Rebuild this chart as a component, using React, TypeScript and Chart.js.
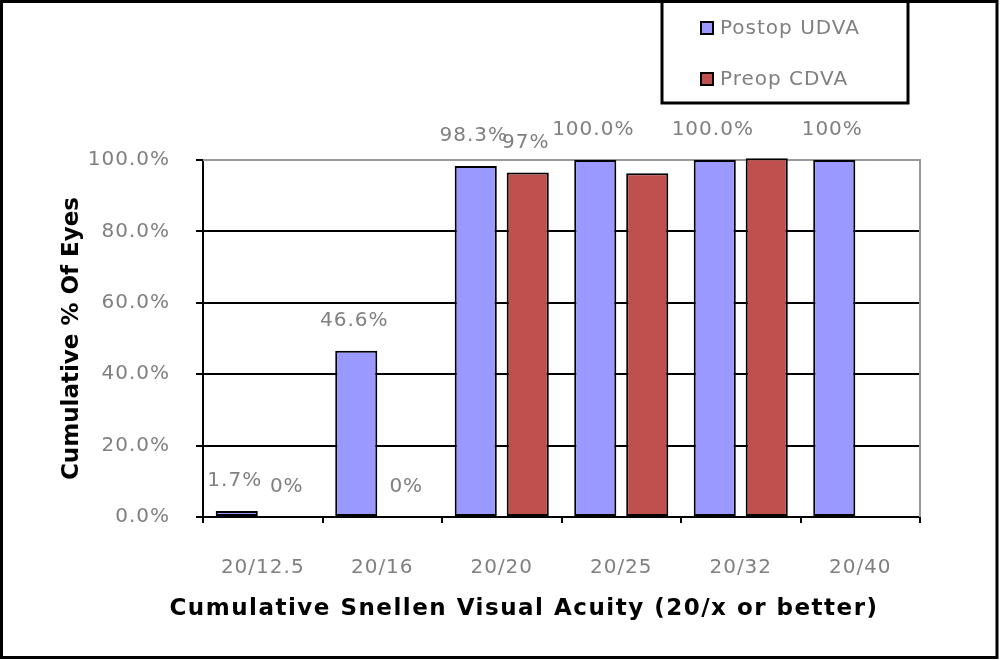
import React, { useEffect, useRef } from "react";
import { Chart, registerables } from "chart.js";

Chart.register(...registerables);

const categories = ["20/12.5", "20/16", "20/20", "20/25", "20/32", "20/40"];
const postopUDVA = [1.7, 46.6, 98.3, 100, 100, 100];
const preopCDVA: (number | null)[] = [0, 0, 96.5, 96.3, 100.5, null];
const postopLabels = ["1.7%", "46.6%", "98.3%", "100.0%", "100.0%", "100%"];
const preopLabels = ["0%", "0%", "97%", "", "", ""];
const yTickLabels = ["0.0%", "20.0%", "40.0%", "60.0%", "80.0%", "100.0%"];
const seriesNames = ["Postop UDVA", "Preop CDVA"];
const seriesColors = ["#9999FF", "#C0504D"];

const xTitle = "Cumulative Snellen Visual Acuity (20/x or better)";
const yTitle = "Cumulative % Of Eyes";

const GRAY = "#808080";
const FONT = "20px 'DejaVu Sans'";
const BOLD = "bold 23px 'DejaVu Sans'";

export default function App() {
  const ref = useRef<HTMLCanvasElement | null>(null);

  useEffect(() => {
    const canvas = ref.current;
    if (!canvas) return;
    document.body.style.margin = "0";

    const decor = {
      id: "decor",
      beforeDraw(chart: any) {
        const ctx = chart.ctx;
        ctx.letterSpacing = "1px";
        ctx.save();
        ctx.fillStyle = "#fff";
        ctx.fillRect(0, 0, chart.width, chart.height);
        ctx.restore();
      },
      beforeDatasetsDraw(chart: any) {
        const ctx = chart.ctx;
        const a = chart.chartArea;
        ctx.save();
        ctx.strokeStyle = "#999";
        ctx.lineWidth = 2;
        ctx.beginPath();
        ctx.moveTo(a.left, a.top);
        ctx.lineTo(a.right, a.top);
        ctx.lineTo(a.right, a.bottom);
        ctx.stroke();
        ctx.restore();
      },
      afterDatasetsDraw(chart: any) {
        const ctx = chart.ctx;
        ctx.save();
        ctx.font = FONT;
        ctx.letterSpacing = "1px";
        ctx.fillStyle = GRAY;
        ctx.textAlign = "center";
        ctx.textBaseline = "middle";
        const labelSets = [postopLabels, preopLabels];
        chart.data.datasets.forEach((ds: any, di: number) => {
          const meta = chart.getDatasetMeta(di);
          meta.data.forEach((el: any, i: number) => {
            const t = labelSets[di][i];
            if (!t || ds.data[i] == null) return;
            ctx.fillText(t, el.x - 2, el.y - 30);
          });
        });
        ctx.restore();
      },
      afterDraw(chart: any) {
        const ctx = chart.ctx;
        const a = chart.chartArea;
        ctx.save();
        // axis titles
        ctx.fillStyle = "#000";
        ctx.font = BOLD;
        ctx.textAlign = "center";
        ctx.textBaseline = "middle";
        ctx.letterSpacing = "1.5px";
        ctx.fillText(xTitle, 524, 609);
        ctx.letterSpacing = "0px";
        ctx.save();
        ctx.translate(72, (a.top + a.bottom) / 2);
        ctx.rotate(-Math.PI / 2);
        ctx.fillText(yTitle, 0, 0);
        ctx.restore();

        // legend
        ctx.lineWidth = 3;
        ctx.strokeStyle = "#000";
        ctx.fillStyle = "#fff";
        ctx.fillRect(662, 1, 246, 102);
        ctx.strokeRect(662, 1, 246, 102);
        ctx.font = FONT;
        ctx.letterSpacing = "1px";
        ctx.textAlign = "left";
        const ys = [28, 79];
        seriesNames.forEach((n, i) => {
          ctx.fillStyle = seriesColors[i];
          ctx.fillRect(701, ys[i] - 6, 12, 12);
          ctx.lineWidth = 2;
          ctx.strokeStyle = "#000";
          ctx.strokeRect(701, ys[i] - 6, 12, 12);
          ctx.fillStyle = GRAY;
          ctx.fillText(n, 720, ys[i] + 1);
        });

        // outer border
        ctx.lineWidth = 3;
        ctx.strokeStyle = "#000";
        ctx.strokeRect(1.5, 1.5, 995.5, 656);
        ctx.restore();
      },
    };

    const chart = new Chart(canvas, {
      type: "bar",
      data: {
        labels: categories,
        datasets: [
          {
            label: seriesNames[0],
            data: postopUDVA,
            backgroundColor: seriesColors[0],
            borderColor: "#000",
            borderWidth: (c: any) => (c.raw ? 2 : 0),
            borderSkipped: false,
            clip: false as any,
          },
          {
            label: seriesNames[1],
            data: preopCDVA,
            backgroundColor: seriesColors[1],
            borderColor: "#000",
            borderWidth: (c: any) => (c.raw ? 2 : 0),
            borderSkipped: false,
            clip: false as any,
          },
        ],
      },
      options: {
        responsive: false,
        devicePixelRatio: 1,
        animation: false,
        categoryPercentage: 0.87,
        barPercentage: 0.81,
        layout: { padding: { top: 160, right: 80, left: 0, bottom: 0 } },
        plugins: {
          legend: { display: false },
          title: { display: false },
          tooltip: { enabled: false },
        },
        scales: {
          x: {
            afterFit: (s: any) => {
              s.height = 143;
            },
            grid: {
              offset: true,
              drawOnChartArea: false,
              drawTicks: true,
              tickLength: 6,
              color: "#000",
              lineWidth: 2,
            },
            border: { display: true, color: "#000", width: 2 },
            ticks: {
              color: GRAY,
              font: { family: "'DejaVu Sans'", size: 20 },
              padding: 33,
              maxRotation: 0,
              autoSkip: false,
            },
          },
          y: {
            min: 0,
            max: 100,
            afterFit: (s: any) => {
              s.width = 203;
            },
            grid: {
              color: (c: any) => (c.tick && c.tick.value === 100 ? "#999" : "#000"),
              tickColor: "#000",
              lineWidth: 2,
              tickLength: 7,
              drawTicks: true,
            },
            border: { display: true, color: "#000", width: 2 },
            ticks: {
              stepSize: 20,
              color: GRAY,
              font: { family: "'DejaVu Sans'", size: 20 },
              padding: 26,
              callback: (_v: any, i: number) => yTickLabels[i],
            },
          },
        },
      },
      plugins: [decor],
    } as any);

    return () => chart.destroy();
  }, []);

  return (
    <div style={{ position: "fixed", left: 0, top: 0, width: 1000, height: 660 }}>
      <canvas ref={ref} width={1000} height={660} style={{ display: "block" }} />
    </div>
  );
}
